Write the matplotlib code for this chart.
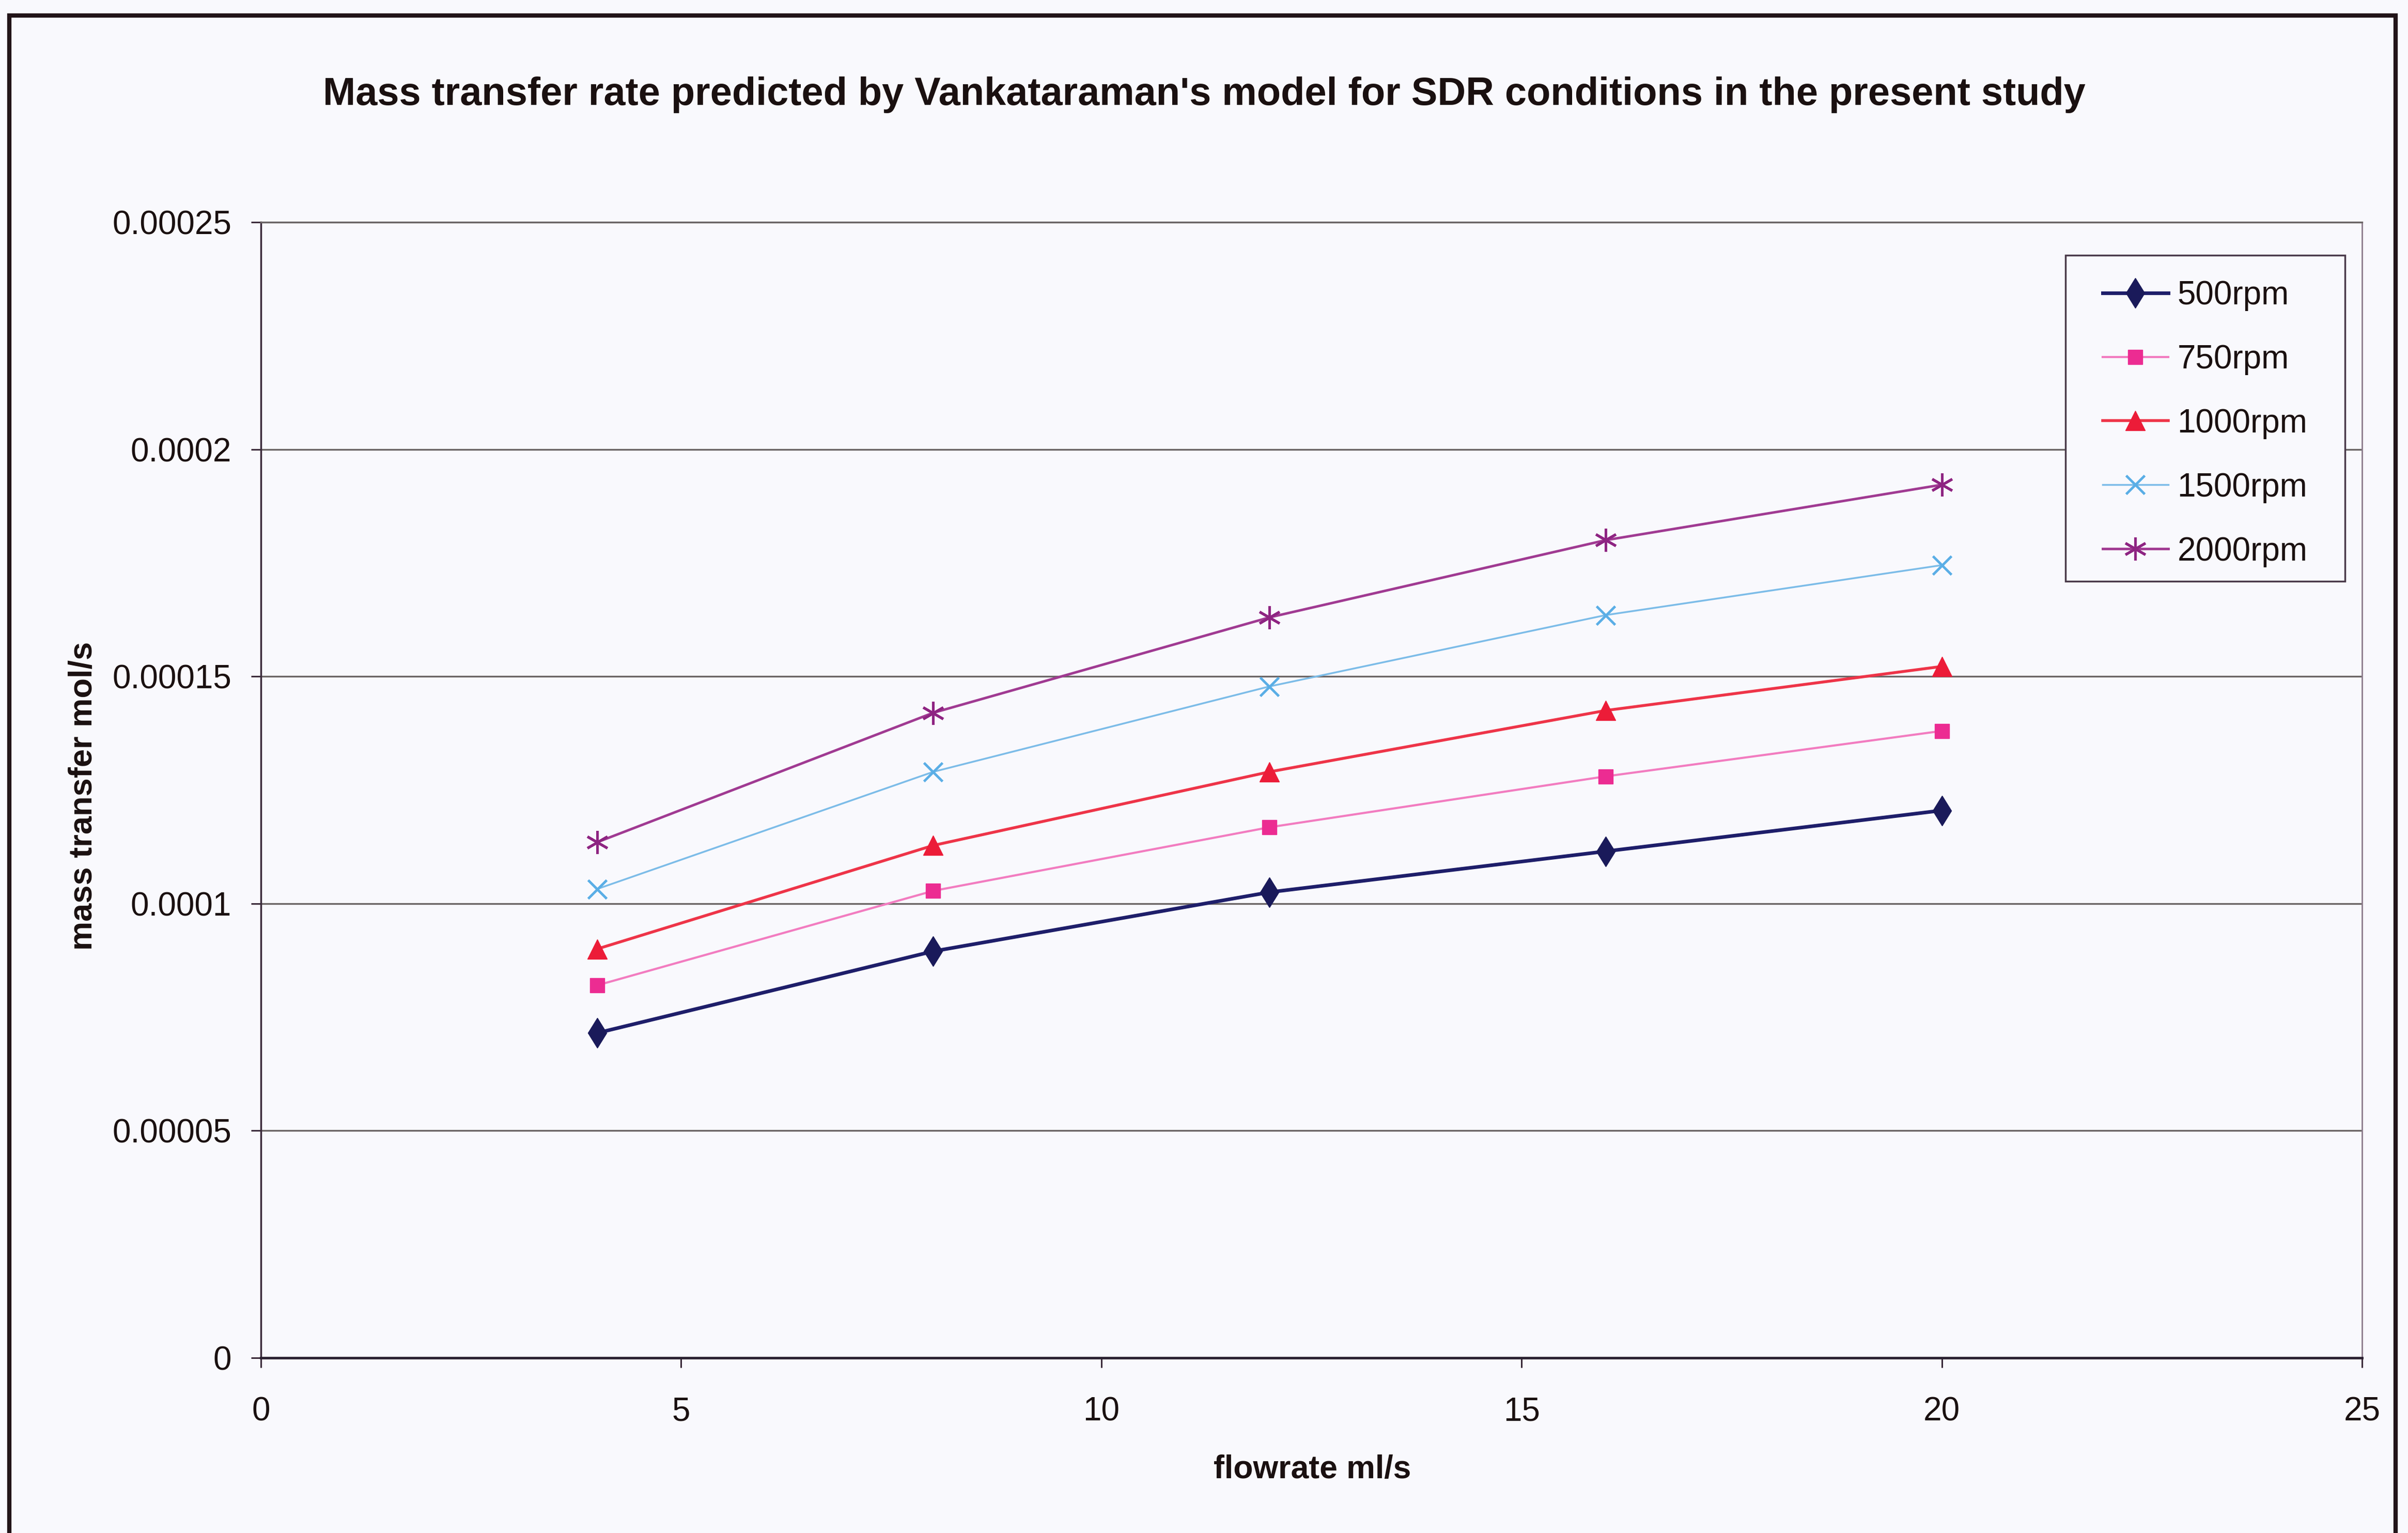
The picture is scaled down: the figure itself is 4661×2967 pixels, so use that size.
"""
Mass transfer rate predicted by Vankataraman's model, SDR conditions.
Excel-style line chart with one series per disc speed.
"""

import matplotlib

matplotlib.use("Agg")
import matplotlib.pyplot as plt
from matplotlib.patches import Rectangle
from matplotlib.ticker import FixedLocator

plt.rcParams["font.family"] = ["Liberation Sans", "DejaVu Sans"]

# flowrate ml/s
flowrate = [4, 8, 12, 16, 20]

# mass transfer mol/s per disc speed
rate_500 = [7.15e-05, 8.95e-05, 1.025e-04, 1.115e-04, 1.205e-04]
rate_750 = [8.2e-05, 1.028e-04, 1.168e-04, 1.28e-04, 1.38e-04]
rate_1000 = [9.0e-05, 1.128e-04, 1.29e-04, 1.425e-04, 1.522e-04]
rate_1500 = [1.032e-04, 1.29e-04, 1.478e-04, 1.635e-04, 1.745e-04]
rate_2000 = [1.135e-04, 1.42e-04, 1.63e-04, 1.80e-04, 1.922e-04]

series_labels = ["500rpm", "750rpm", "1000rpm", "1500rpm", "2000rpm"]
y_ticks = [0, 0.00005, 0.0001, 0.00015, 0.0002, 0.00025]
y_tick_labels = ["0", "0.00005", "0.0001", "0.00015", "0.0002", "0.00025"]
x_ticks = [0, 5, 10, 15, 20, 25]

BG = "#f9f9fd"
TEXT = "#1a1010"
W, H = 4661, 2967
DPI = 100

fig = plt.figure(figsize=(W / DPI, H / DPI), dpi=DPI, facecolor=BG)
ax = fig.add_axes([505 / W, 1 - 2628 / H, (4572 - 505) / W, (2628 - 430) / H])
ax.set_facecolor(BG)

# (line colour, marker colour, marker, marker size, line width)
styles = [
    ("#1e1e6a", "#1a1a5a", "d", 30, 5.0),
    ("#f27cc0", "#ec2c92", "s", 20, 3.0),
    ("#ee3448", "#ec1c38", "^", 27, 4.0),
    ("#7cbce8", "#5aaee6", "x", 26, 2.5),
    ("#a03a92", "#8e2482", (6, 2, 0), 32, 3.5),
]
all_rates = [rate_500, rate_750, rate_1000, rate_1500, rate_2000]

for rates, label, (lc, mc, mk, ms, lw) in zip(all_rates, series_labels, styles):
    ax.plot(
        flowrate,
        rates,
        color=lc,
        linewidth=lw,
        marker=mk,
        markersize=ms,
        markerfacecolor=mc,
        markeredgecolor=mc,
        markeredgewidth=3.5 if mk in ("x", (6, 2, 0)) else 1.0,
        label=label,
        zorder=3,
    )

ax.set_xlim(0, 25)
ax.set_ylim(0, 0.00025)
ax.xaxis.set_major_locator(FixedLocator(x_ticks))
ax.set_yticks(y_ticks)
ax.set_yticklabels(y_tick_labels)
ax.grid(axis="y", color="#6a6464", linewidth=2.4, zorder=1)
ax.set_axisbelow(True)

ax.spines["left"].set_color("#3a2a3a")
ax.spines["left"].set_linewidth(2.5)
ax.spines["bottom"].set_color("#2a2030")
ax.spines["bottom"].set_linewidth(3.5)
ax.spines["right"].set_color("#8a7a8a")
ax.spines["right"].set_linewidth(2.0)
ax.spines["top"].set_color("#6a6464")
ax.spines["top"].set_linewidth(2.4)

ax.tick_params(axis="both", direction="out", length=14, width=2.2, color="#3a2a3a",
               labelsize=46, labelcolor=TEXT)
ax.tick_params(axis="y", pad=27)
ax.tick_params(axis="x", pad=40)

fig.text(0.5, 0.938,
         "Mass transfer rate predicted by Vankataraman's model for SDR conditions in the present study",
         ha="center", va="center", fontsize=54.5, fontweight="bold", color=TEXT)
fig.text(162 / W, 1 - 1540 / H, "mass transfer mol/s", rotation=90, ha="center", va="center",
         fontsize=45.5, fontweight="bold", color=TEXT)
fig.text(2540 / W, 1 - 2845 / H, "flowrate ml/s", ha="center", va="center",
         fontsize=45, fontweight="bold", color=TEXT)

# legend box drawn separately like the Excel legend, entries on top of it
ax.add_patch(Rectangle((3998 / W, 1 - 1125 / H), (4539 - 3998) / W, (1125 - 494) / H,
                       transform=fig.transFigure, facecolor=BG, edgecolor="#4a3a4a",
                       linewidth=2.5, zorder=4, clip_on=False))
leg = ax.legend(
    loc="upper left",
    bbox_to_anchor=(4070 / W, 1 - 542 / H),
    bbox_transform=fig.transFigure,
    fontsize=46,
    frameon=False,
    borderpad=0,
    labelspacing=1.0,
    handlelength=1.98,
    handletextpad=0.28,
    borderaxespad=0,
)
leg.set_zorder(6)
for txt in leg.get_texts():
    txt.set_color(TEXT)

# outer chart border (runs off the bottom of the scan)
fig.patches.append(Rectangle((18 / W, -0.05), (4637 - 18) / W, 1.05 - 30 / H,
                             transform=fig.transFigure, fill=False,
                             edgecolor="#221418", linewidth=6, clip_on=False))

fig.savefig("out.png", dpi=DPI, facecolor=BG)
